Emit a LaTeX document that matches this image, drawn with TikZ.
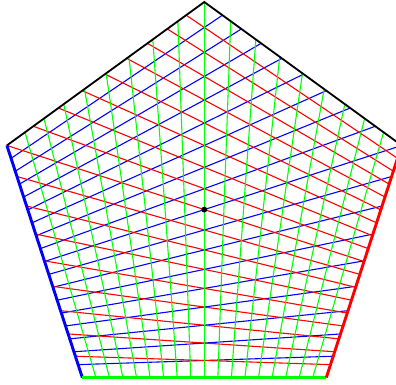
\documentclass[tikz,border=0pt]{standalone}
\usetikzlibrary{calc}
\begin{document}
\begin{tikzpicture}[
    gridline/.style={line width=0.6pt},
    side/.style={line width=1.6pt}]
    \useasboundingbox (-3.937,-3.380) rectangle (3.694,4.039);

    % vrcholy pětiúhelníku
    \coordinate (O) at (0,0);
    \foreach \name/\ang in {A/90,B/162,C/234,D/306,E/18}
        \coordinate (\name) at (\ang:4);

    % průsečíky prodloužených stran
    \coordinate (P) at (intersection of B--C and E--D);
    \coordinate (Q) at (intersection of A--B and C--D);
    \coordinate (R) at (intersection of A--E and C--D);

    % svazky přímek
    \begin{scope}
        \clip (A) -- (B) -- (C) -- (D) -- (E) -- cycle;
        \foreach \i in {1,...,17} {
            \coordinate (b\i) at ($(B)!\i/18!(C)$);
            \draw[gridline, blue] (b\i) -- ($(Q)!3!(b\i)$);
        }
        \foreach \i in {1,...,17} {
            \coordinate (r\i) at ($(E)!\i/18!(D)$);
            \draw[gridline, red] (r\i) -- ($(R)!3!(r\i)$);
        }
        \foreach \i in {1,...,17} {
            \coordinate (g\i) at ($(C)!\i/18!(D)$);
            \draw[gridline, green] (g\i) -- ($(P)!3!(g\i)$);
        }
    \end{scope}

    % strany
    \draw[line width=1pt] (E) -- (A) -- (B);
    \draw[side, blue] (B) -- (C);
    \draw[side, green] (C) -- (D);
    \draw[side, red] (D) -- (E);

    % střed
    \fill (O) circle (1.6pt);
\end{tikzpicture}
\end{document}
